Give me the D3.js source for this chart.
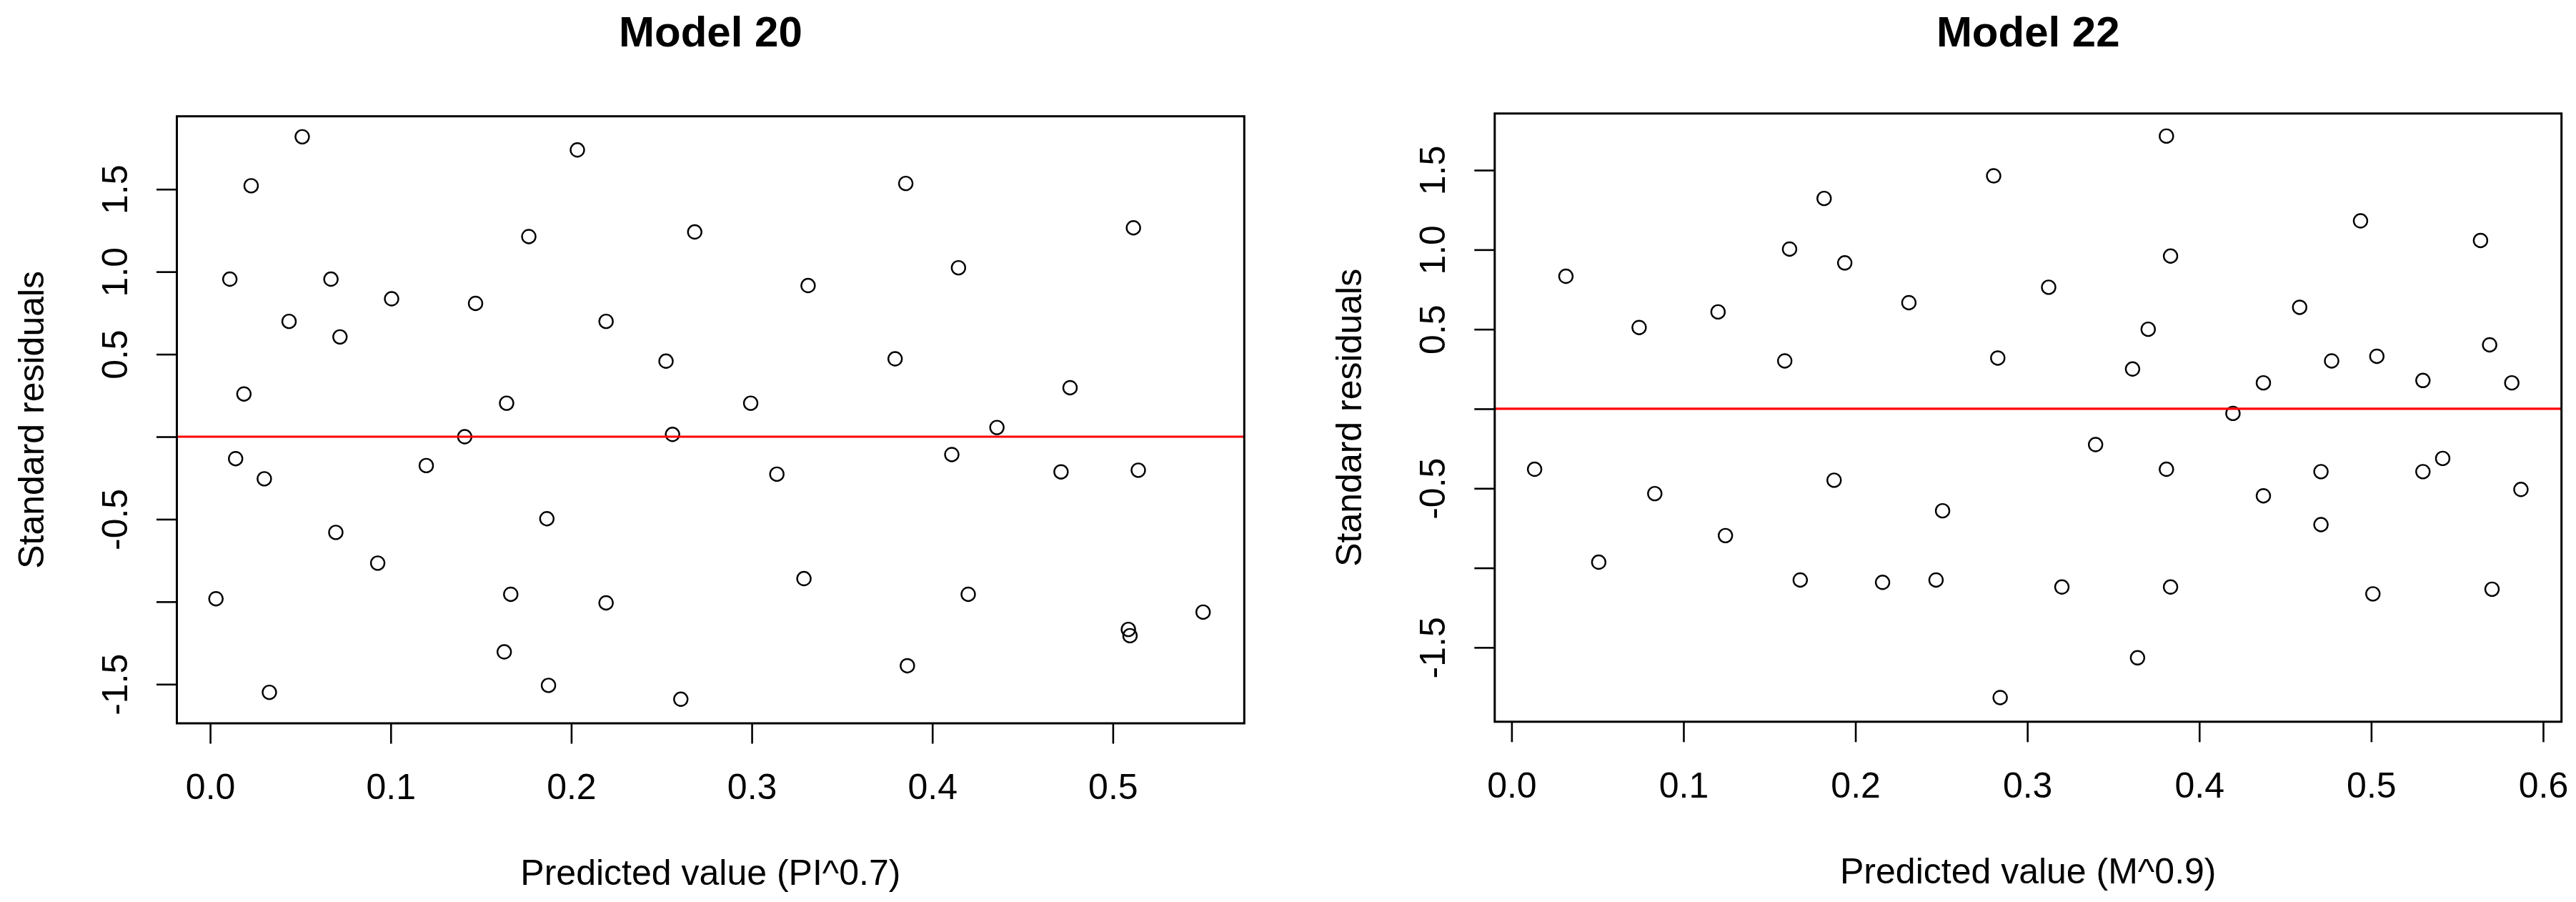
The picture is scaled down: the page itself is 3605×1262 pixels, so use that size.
<!DOCTYPE html>
<html>
<head>
<meta charset="utf-8">
<script src="https://cdn.jsdelivr.net/npm/d3@7"></script>
<style>
  body { margin: 0; background: #fff; }
  text { font-family: "Liberation Sans", Arial, sans-serif; fill: #000; }
</style>
</head>
<body>
<svg id="svg"></svg>
<script>
let width = 3605, height = 1262;

// Model 20 : predicted value vs standard residuals
let m20X = [0.0032, 0.0109, 0.0141, 0.0187, 0.0227, 0.0300, 0.0328, 0.0437, 0.0510, 0.0669,
            0.0696, 0.0719, 0.0928, 0.1005, 0.1197, 0.1410, 0.1470, 0.1629, 0.1642, 0.1665,
            0.1765, 0.1865, 0.1874, 0.2034, 0.2193, 0.2193, 0.2525, 0.2561, 0.2607, 0.2684,
            0.2994, 0.3139, 0.3289, 0.3312, 0.3794, 0.3853, 0.3862, 0.4108, 0.4145, 0.4199,
            0.4358, 0.4713, 0.4763, 0.5086, 0.5095, 0.5114, 0.5141, 0.5500];
let m20Y = [-0.982, 0.955, -0.133, 0.259, 1.521, -0.255, -1.549, 0.699, 1.818, 0.955,
            -0.580, 0.605, -0.766, 0.836, -0.175, 0.000, 0.808, -1.304, 0.203, -0.955,
            1.213, -0.497, -1.507, 1.738, 0.699, -1.007, 0.458, 0.014, -1.591, 1.241,
            0.203, -0.227, -0.860, 0.916, 0.472, 1.535, -1.388, -0.108, 1.024, -0.955,
            0.056, -0.213, 0.297, -1.168, -1.206, 1.266, -0.203, -1.063];

// Model 22
let m22X = [0.0134, 0.0316, 0.0507, 0.0742, 0.0833, 0.1201, 0.1244, 0.1589, 0.1617, 0.1679,
            0.1818, 0.1876, 0.1938, 0.2158, 0.2311, 0.2469, 0.2507, 0.2804, 0.2828, 0.2842,
            0.3124, 0.3201, 0.3397, 0.3612, 0.3641, 0.3703, 0.3809, 0.3809, 0.3833, 0.3833,
            0.4196, 0.4373, 0.4373, 0.4584, 0.4708, 0.4708, 0.4770, 0.4938, 0.5010, 0.5033,
            0.5301, 0.5301, 0.5416, 0.5636, 0.5689, 0.5703, 0.5818, 0.5871];
let m22Y = [-0.380, 0.833, -0.964, 0.511, -0.533, 0.609, -0.797, 0.301, 1.004, -1.076,
            1.322, -0.449, 0.917, -1.091, 0.667, -1.076, -0.641, 1.464, 0.319, -1.815,
            0.764, -1.120, -0.225, 0.250, -1.565, 0.500, 1.714, -0.380, 0.960, -1.120,
            -0.029, 0.163, -0.547, 0.638, -0.395, -0.728, 0.301, 1.181, -1.163, 0.330,
            0.178, -0.395, -0.312, 1.058, 0.402, -1.134, 0.163, -0.507];

let m20XTicks = [0, 0.1, 0.2, 0.3, 0.4, 0.5];
let m22XTicks = [0, 0.1, 0.2, 0.3, 0.4, 0.5, 0.6];
let yTicks = [-1.5, -1, -0.5, 0, 0.5, 1, 1.5];
let yTickLabels = ["-1.5", "", "-0.5", "", "0.5", "1.0", "1.5"]; // R drops the crowded ones

let panels = [
    { title: "Model 20", xlab: "Predicted value (PI^0.7)", ylab: "Standard residuals",
      xs: m20X, ys: m20Y, xTicks: m20XTicks,
      xlim: [-0.01845, 0.5728], ylim: [-1.737, 1.942],
      left: 247.5, right: 1741.3, top: 162.7, bottom: 1012 },
    { title: "Model 22", xlab: "Predicted value (M^0.9)", ylab: "Standard residuals",
      xs: m22X, ys: m22Y, xTicks: m22XTicks,
      xlim: [-0.0098, 0.6107], ylim: [-1.967, 1.856],
      left: 2091.8, right: 3584.7, top: 158.8, bottom: 1009.8 }
];

let svg = d3.select("#svg").attr("width", width).attr("height", height);
svg.append("rect").attr("width", width).attr("height", height).attr("fill", "#fff");

panels.forEach(p => {
    let g = svg.append("g");
    let xScale = d3.scaleLinear().domain(p.xlim).range([p.left, p.right]);
    let yScale = d3.scaleLinear().domain(p.ylim).range([p.bottom, p.top]);
    let data = p.xs.map((x, i) => ({ x: x, y: p.ys[i] }));

    // x axis
    let xAxis = g.append("g")
        .attr("transform", `translate(0, ${p.bottom})`)
        .call(d3.axisBottom(xScale).tickValues(p.xTicks).tickFormat(d3.format(".1f")).tickSize(28.5).tickSizeOuter(0));
    xAxis.select(".domain").remove();
    xAxis.selectAll("line").attr("stroke", "#000").attr("stroke-width", 2.6);
    xAxis.selectAll("text")
        .attr("y", 106).attr("dy", null)
        .attr("font-size", 50).attr("font-family", null).attr("fill", "#000");

    // y axis, labels turned like R's las=0
    let yAxis = g.append("g")
        .attr("transform", `translate(${p.left}, 0)`)
        .call(d3.axisLeft(yScale).tickValues(yTicks)
            .tickFormat((d, i) => yTickLabels[i]).tickSize(28.5).tickSizeOuter(0));
    yAxis.select(".domain").remove();
    yAxis.selectAll("line").attr("stroke", "#000").attr("stroke-width", 2.6);
    yAxis.selectAll("text")
        .attr("x", null).attr("dy", null)
        .attr("text-anchor", "middle")
        .attr("transform", "translate(-70, 0) rotate(-90)")
        .attr("font-size", 50).attr("font-family", null).attr("fill", "#000");

    // points
    g.append("g").selectAll("circle")
        .data(data)
        .join("circle")
        .attr("cx", d => xScale(d.x))
        .attr("cy", d => yScale(d.y))
        .attr("r", 9.5)
        .attr("fill", "none")
        .attr("stroke", "#000")
        .attr("stroke-width", 2.4);

    // reference line at 0
    g.append("line")
        .attr("x1", p.left).attr("x2", p.right)
        .attr("y1", yScale(0)).attr("y2", yScale(0))
        .attr("stroke", "#ff0000")
        .attr("stroke-width", 3.2);

    // frame
    g.append("rect")
        .attr("x", p.left).attr("y", p.top)
        .attr("width", p.right - p.left).attr("height", p.bottom - p.top)
        .attr("fill", "none").attr("stroke", "#000").attr("stroke-width", 3);

    // titles
    let cx = (p.left + p.right) / 2;
    g.append("text")
        .attr("x", cx).attr("y", 65)
        .attr("text-anchor", "middle")
        .attr("font-size", 60).attr("font-weight", "bold")
        .text(p.title);
    g.append("text")
        .attr("x", cx).attr("y", p.bottom + 226)
        .attr("text-anchor", "middle")
        .attr("font-size", 50)
        .text(p.xlab);
    g.append("text")
        .attr("transform", `translate(${p.left - 187}, ${(p.top + p.bottom) / 2}) rotate(-90)`)
        .attr("text-anchor", "middle")
        .attr("font-size", 50)
        .text(p.ylab);
});
</script>
</body>
</html>
